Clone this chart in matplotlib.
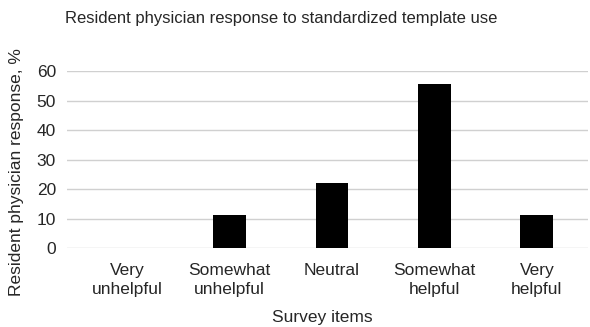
import matplotlib.pyplot as plt
import numpy as np

plt.rcParams['font.family'] = ['Liberation Sans', 'DejaVu Sans']

# survey answers (percent of residents)
categories = ['Very\nunhelpful', 'Somewhat\nunhelpful', 'Neutral', 'Somewhat\nhelpful', 'Very\nhelpful']
responses = [0, 11.1, 22.2, 55.6, 11.1]
yticks = [0, 10, 20, 30, 40, 50, 60]

txt = '#262626'
fs = 12.5
fig = plt.figure(figsize=(5.9, 3.27), dpi=100)
ax = fig.add_axes([67 / 590, 79 / 327, 521 / 590, 176.7 / 327])

x = np.arange(len(categories))
ax.bar(x, responses, width=0.32, color='black', zorder=3)

ax.set_ylim(0, 60)
ax.set_xlim(-0.59, 4.5)
ax.set_yticks(yticks)
ax.set_xticks(x)
ax.set_xticklabels(categories, fontsize=fs, color=txt, linespacing=1.35)
ax.tick_params(axis='y', length=0, pad=8, labelsize=fs, labelcolor=txt)
ax.tick_params(axis='x', length=0, pad=11)
ax.grid(axis='y', color='#d0d0d0', linewidth=1.0, zorder=0)
for s in ax.spines.values():
    s.set_visible(False)

ax.set_ylabel('Resident physician response, %', fontsize=fs, color=txt)
ax.yaxis.set_label_coords(-0.083, 0.43)
ax.set_xlabel('Survey items', fontsize=fs, color=txt)
ax.xaxis.set_label_coords(0.49, -0.35)
fig.text(281 / 590, 1 - 18 / 327, 'Resident physician response to standardized template use',
         ha='center', va='center', fontsize=12, color=txt)

fig.savefig('out.png', dpi=100)
